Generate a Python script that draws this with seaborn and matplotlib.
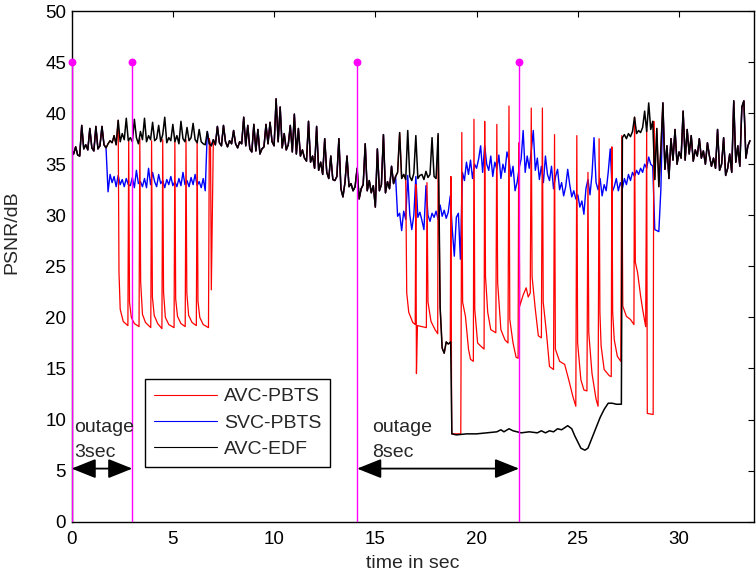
import numpy as np
import pandas as pd
import matplotlib
matplotlib.use("Agg")
import matplotlib.pyplot as plt
import seaborn as sns

# ---- data ----
# common PSNR trace where all three schemes agree, 0.1 s steps from 0.0 s
base_a = [
    36.4, 36.0, 36.7, 35.9, 35.8, 38.8, 36.5, 36.9, 36.4, 38.5,
    36.6, 36.3, 38.7, 36.5, 36.8, 38.7, 36.9, 36.6, 37.0, 37.3,
    37.1, 37.8, 36.9, 39.3, 37.2, 38.0, 37.4, 39.5, 37.3, 37.6,
    37.2, 39.4, 37.6, 37.0, 38.2, 37.4, 39.5, 37.2, 37.8, 37.4,
    39.1, 37.3, 37.5, 38.8, 37.2, 37.9, 39.6, 37.1, 37.6, 37.3,
    38.9, 37.2, 37.8, 37.0, 39.2, 37.5, 37.2, 38.6, 37.3, 37.6,
    39.0, 37.4, 37.1, 38.4, 37.2, 37.0, 36.9, 38.2, 37.0, 36.8,
    37.4, 36.9, 38.7, 37.1, 36.8, 38.8, 37.2, 36.7, 37.3, 37.0,
    38.3, 37.0, 36.6, 37.2, 37.0, 39.6, 36.8, 38.8, 36.5, 36.2,
    38.9, 36.3, 38.4, 36.0, 36.5, 36.7, 38.9, 37.0, 39.1, 37.2,
    36.8, 41.4, 37.2, 40.6, 36.6, 38.0, 36.4, 36.9, 38.8, 36.2,
    39.9, 36.0, 38.5, 35.8, 36.4, 35.6, 35.3, 39.2, 35.2, 35.8,
    34.6, 38.7, 34.4, 35.2, 34.0, 37.5, 34.2, 33.6, 35.8, 33.5,
    33.4, 33.8, 37.5, 32.6, 31.8, 33.2, 35.8, 32.8, 33.1, 32.4,
    32.8, 34.6, 31.6, 32.6, 33.0, 37.0, 32.4, 33.4, 32.2, 32.9,
    30.8, 36.5, 32.4, 33.0, 37.9, 32.2, 33.3, 32.6, 34.8, 33.1,
    33.8, 34.2, 38.1, 33.6, 34.0, 33.5, 38.3, 33.8, 33.4, 34.1,
    37.8, 33.6, 33.9, 34.0, 33.5, 34.3, 33.7, 34.0, 37.6, 33.8,
    33.6, 38.0,
]
# common trace after the second outage, 0.1 s steps from 27.2 s
base_b = [
    37.6, 37.9, 37.5, 38.0, 37.7, 38.2, 39.6, 38.0,
    38.3, 38.1, 38.6, 40.2, 38.2, 41.0, 38.4, 39.2, 33.5, 38.5,
    32.8, 36.5, 41.0, 34.5, 36.8, 33.6, 37.5, 35.4, 38.4, 35.0,
    36.2, 35.6, 40.2, 35.4, 38.4, 36.0, 37.8, 35.3, 36.4, 35.8,
    37.5, 35.6, 36.3, 35.0, 37.1, 35.8, 34.8, 35.6, 34.6, 38.4,
    34.4, 35.0, 37.6, 33.9, 34.6, 36.0, 34.2, 41.2, 35.2, 36.8,
    34.8, 40.6, 41.2, 35.6, 36.8, 37.3,
]

# AVC-EDF during the long outage
edf_t = [18.15, 18.2, 18.3, 18.4, 18.5, 18.6, 18.72, 18.78, 19.0, 19.5, 20.0,
         20.5, 21.0, 21.2, 21.35, 21.6, 21.8, 22.0, 22.2, 22.6, 23.0, 23.2,
         23.4, 23.6, 23.8, 24.0, 24.2, 24.5, 24.7, 24.85, 25.0, 25.15, 25.35,
         25.5, 25.7, 25.9, 26.1, 26.3, 26.5, 26.7, 26.9, 27.15]
edf_v = [30.0, 21.0, 17.0, 16.5, 17.6, 17.4, 17.6, 8.6, 8.5, 8.6, 8.6,
         8.7, 8.8, 9.0, 8.8, 9.1, 8.9, 8.8, 8.7, 8.8, 8.7, 8.9,
         8.7, 8.9, 8.8, 9.1, 9.0, 9.4, 9.1, 8.4, 7.8, 7.2, 7.0,
         7.2, 8.2, 9.2, 10.2, 11.0, 11.6, 11.6, 11.5, 11.5]

# SVC-PBTS during first outage (1.8 .. 6.6 s, 0.1 s steps)
svc1 = [
    32.3, 34.0,
    33.2, 33.8, 32.8, 33.9, 33.0, 33.5, 32.8, 33.6, 33.0, 32.9,
    33.7, 32.7, 34.4, 33.1, 33.3, 32.8, 33.6, 32.7, 34.6, 33.0,
    34.2, 33.3, 32.8, 34.0, 33.1, 33.4, 32.7, 33.5, 33.0, 33.8,
    32.9, 33.3, 32.8, 33.6, 32.9, 34.2, 33.0, 33.4, 32.8, 33.7,
    33.0, 34.0, 32.9, 33.3, 32.7, 33.6, 32.4,
]
# SVC-PBTS during second outage (16.1 .. 29.1 s, 0.1 s steps)
svc2 = [
    29.9, 30.2, 28.5, 30.4, 29.6, 33.9, 30.1, 28.6, 30.0,
    33.8, 29.8, 30.3, 29.5, 28.6, 32.9, 30.0, 29.4, 30.2, 29.8,
    30.4, 29.6, 31.0, 29.9, 30.5, 29.7, 30.3, 31.9, 28.6, 26.0,
    29.8, 30.2, 25.7, 34.2, 33.4, 35.2, 34.0, 35.4, 33.6, 35.0,
    34.6, 35.5, 36.8, 34.2, 36.8, 35.0, 34.4, 35.8, 33.8, 35.2,
    34.5, 35.9, 33.6, 35.0, 34.2, 36.2, 35.4, 33.8, 34.8, 32.4,
    33.2, 34.6, 35.5, 38.3, 34.2, 35.8, 34.6, 36.3, 38.3, 34.4,
    35.6, 33.5, 34.8, 33.2, 35.8, 34.0, 33.4, 34.8, 32.6, 33.8,
    34.5, 32.5, 33.2, 31.9, 32.8, 34.5, 33.0, 31.8, 32.4, 31.6,
    32.0, 30.8, 31.4, 30.1, 32.6, 33.5, 32.0, 34.0, 37.6, 33.2,
    32.5, 33.6, 31.9, 33.0, 32.4, 34.2, 36.5, 32.3, 32.8, 33.6,
    32.4, 33.2, 32.6, 33.6, 33.0, 34.0, 33.4, 34.2, 33.8, 34.4,
    34.0, 34.6, 34.2, 35.0, 34.6, 35.7, 35.0, 34.8, 28.6, 28.5,
    28.4, 32.5,
]

# AVC-PBTS sawtooth, first outage
avc1_t = [2.34, 2.40, 2.55, 2.78, 2.82, 2.86, 2.95, 3.10, 3.33, 3.37, 3.41,
          3.50, 3.65, 3.91, 3.95, 3.99, 4.08, 4.25, 4.46, 4.50, 4.54, 4.63,
          4.80, 5.06, 5.10, 5.14, 5.23, 5.40, 5.61, 5.65, 5.69, 5.78, 5.95,
          6.16, 6.20, 6.24, 6.33, 6.50, 6.76, 6.80, 6.86, 6.90]
avc1_v = [24.4, 20.8, 19.6, 19.2, 37.4, 21.5, 20.0, 19.4, 19.1, 37.5, 23.5,
          20.3, 19.5, 19.0, 37.3, 22.0, 20.2, 19.4, 18.9, 37.4, 22.5, 20.0,
          19.3, 19.0, 37.2, 21.8, 20.1, 19.4, 19.1, 37.4, 22.4, 20.2, 19.5,
          19.2, 37.3, 21.6, 20.0, 19.3, 19.0, 37.5, 37.0, 22.7]
# AVC-PBTS sawtooth, second outage
avc2_t = [16.55, 16.65, 16.85, 16.97, 17.00, 17.03, 17.08, 17.30, 17.52, 17.55,
          17.60, 17.75, 17.95, 18.08, 18.10, 18.20, 18.30, 18.40, 18.50, 18.60,
          18.70, 18.73, 18.77, 19.22, 19.27, 19.31, 19.45, 19.60, 19.70, 19.84,
          19.87, 19.91, 20.05, 20.20, 20.37, 20.40, 20.44, 20.55, 20.70, 20.95,
          21.00, 21.04, 21.20, 21.40, 21.55, 21.60, 21.64, 21.80, 21.95, 22.05,
          22.08, 22.13, 22.30, 22.45, 22.55, 22.65, 22.70, 22.74, 22.90, 23.05,
          23.20, 23.25, 23.29, 23.45, 23.60, 23.80, 23.85, 23.89, 24.10, 24.35,
          24.55, 24.75, 24.90, 24.95, 24.99, 25.15, 25.30, 25.45, 25.50, 25.54,
          25.70, 25.90, 26.00, 26.05, 26.09, 26.15, 26.30, 26.55, 26.65, 26.68,
          26.72, 26.80, 26.95, 27.12, 27.17, 27.22, 27.40, 27.60, 27.77, 27.80,
          27.84, 27.95, 28.10, 28.20, 28.35, 28.40, 28.43, 28.72, 28.75]
avc2_v = [22.4, 20.5, 19.5, 19.3, 33.0, 14.5, 19.2, 19.1, 19.0, 33.2,
          21.5, 19.6, 18.8, 18.4, 37.8, 21.0, 17.0, 16.5, 17.6, 17.4,
          17.5, 33.8, 8.6, 8.6, 38.1, 21.5, 20.1, 16.9, 15.9, 15.7,
          39.4, 20.8, 17.5, 17.2, 16.9, 39.2, 24.0, 20.5, 18.8, 18.5,
          38.9, 23.4, 18.8, 17.8, 17.5, 40.7, 19.8, 17.5, 16.1, 16.0,
          37.1, 21.1, 22.2, 22.9, 22.0, 22.4, 40.5, 24.0, 20.8, 18.2,
          18.0, 40.5, 21.5, 18.5, 15.2, 14.9, 37.9, 16.9, 15.7, 15.4,
          13.9, 12.3, 11.3, 37.8, 17.5, 13.9, 12.9, 12.8, 34.2, 18.5,
          14.5, 12.0, 11.3, 37.5, 20.5, 17.2, 14.9, 14.3, 14.2, 36.7,
          20.5, 17.8, 16.2, 15.7, 37.8, 21.1, 20.1, 19.8, 19.3, 39.6,
          25.4, 24.4, 22.1, 20.8, 19.1, 38.4, 10.6, 10.5, 39.2]

# outage markers (stems)
stem_t = [0.0, 3.0, 14.1, 22.1]
stem_h = [45, 45, 45, 45]
outage_labels = ["outage\n3sec", "outage\n8sec"]

series_names = ["AVC-PBTS", "SVC-PBTS", "AVC-EDF"]
colors = {"AVC-PBTS": "#FF0000", "SVC-PBTS": "#0000FF", "AVC-EDF": "#000000"}


def trace(start, vals):
    t = np.round(start + 0.1 * np.arange(len(vals)), 2)
    return pd.DataFrame({"t": t, "psnr": vals})


def splice(df, seg):
    lo, hi = seg.t.min() - 1e-6, seg.t.max() + 1e-6
    keep = df[(df.t < lo) | (df.t > hi)]
    return pd.concat([keep, seg]).sort_values("t").reset_index(drop=True)


base = pd.concat([trace(0.0, base_a), trace(27.2, base_b)])
edf = splice(base, pd.DataFrame({"t": edf_t, "psnr": edf_v}))
svc = splice(splice(base, trace(1.8, svc1)), trace(16.1, svc2))
avc = splice(splice(base, pd.DataFrame({"t": avc1_t, "psnr": avc1_v})),
             pd.DataFrame({"t": avc2_t, "psnr": avc2_v}))

# ---- plot ----
sns.set_style("white")
plt.rcParams["font.family"] = ["Liberation Sans", "DejaVu Sans"]

fig = plt.figure(figsize=(7.56, 5.79), dpi=100)
ax = fig.add_axes([71.6 / 756, (579 - 521.7) / 579,
                   (754 - 71.6) / 756, (521.7 - 11) / 579])

sns.lineplot(data=svc, x="t", y="psnr", color=colors["SVC-PBTS"], lw=1.0,
             estimator=None, sort=False, label="SVC-PBTS", ax=ax)
sns.lineplot(data=avc, x="t", y="psnr", color=colors["AVC-PBTS"], lw=0.9,
             estimator=None, sort=False, label="AVC-PBTS", ax=ax)
sns.lineplot(data=edf, x="t", y="psnr", color=colors["AVC-EDF"], lw=1.1,
             estimator=None, sort=False, label="AVC-EDF", ax=ax)

# outage stems
ax.vlines(stem_t, 0, stem_h, colors="#FF00FF", lw=1.0, zorder=6)
sns.scatterplot(x=stem_t, y=stem_h, color="#FF00FF", s=32, linewidth=0,
                zorder=7, clip_on=False, ax=ax, legend=False)

# outage arrows and labels
arrow_y = 5.2
for (a, b), lab, dx in zip([(stem_t[0], stem_t[1]), (stem_t[2], stem_t[3])],
                           outage_labels, [0.12, 0.75]):
    ax.annotate("", xy=(a, arrow_y), xytext=(b, arrow_y),
                arrowprops=dict(arrowstyle="<|-|>,head_length=1.5,head_width=0.6",
                                color="black", lw=1.3, shrinkA=0, shrinkB=0,
                                mutation_scale=10), zorder=8)
    top, bottom = lab.split("\n")
    ax.text(a + dx, 8.8, top, fontsize=14, va="baseline", ha="left", zorder=8)
    ax.text(a + dx, 6.3, bottom, fontsize=14, va="baseline", ha="left", zorder=8)

ax.set_xlim(0, 33.7)
ax.set_ylim(0, 50)
ax.set_xticks(np.arange(0, 31, 5))
ax.set_yticks(np.arange(0, 51, 5))
ax.tick_params(direction="in", top=True, right=True, length=4, width=0.8,
               labelsize=13.5, colors="black")
ax.tick_params(axis="x", pad=7)
ax.tick_params(axis="y", pad=4)
for sp in ax.spines.values():
    sp.set_visible(True)
    sp.set_color("black")
    sp.set_linewidth(1.0)

ax.set_xlabel("time in sec", fontsize=14, labelpad=5)
ax.set_ylabel("PSNR/dB", fontsize=14)
ax.yaxis.set_label_coords(-0.075, 0.567)

handles, labels = ax.get_legend_handles_labels()
order = [labels.index(n) for n in series_names]
leg = ax.legend([handles[i] for i in order], series_names,
                loc="upper left", bbox_to_anchor=(0.1077, 0.2794),
                borderaxespad=0, fontsize=14, frameon=True, fancybox=False,
                framealpha=1, edgecolor="black", handlelength=3.25,
                handletextpad=0.35, labelspacing=0.45, borderpad=0.45)
leg.get_frame().set_linewidth(1.0)
for h in leg.get_lines():
    h.set_linewidth(0.8)

fig.savefig("out.png", dpi=100)
